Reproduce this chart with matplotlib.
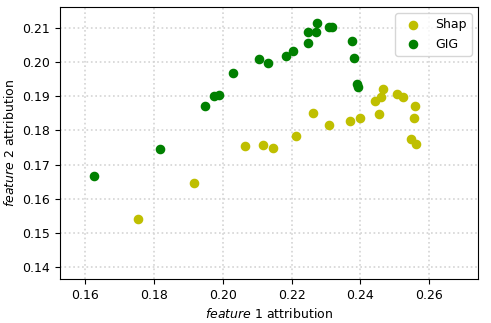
import numpy as np
import matplotlib.pyplot as plt

# feature attributions
shap_x = [0.1754, 0.1916, 0.2065, 0.2117, 0.2146, 0.2212, 0.2262, 0.2308, 0.2370,
          0.2400, 0.2454, 0.2443, 0.2461, 0.2465, 0.2507, 0.2524, 0.2559, 0.2555,
          0.2547, 0.2563]
shap_y = [0.1540, 0.1646, 0.1755, 0.1756, 0.1748, 0.1784, 0.1851, 0.1817, 0.1828,
          0.1836, 0.1847, 0.1887, 0.1897, 0.1920, 0.1906, 0.1897, 0.1872, 0.1836,
          0.1775, 0.1759]

gig_x = [0.1627, 0.1819, 0.1949, 0.1975, 0.1990, 0.2029, 0.2106, 0.2131, 0.2183,
         0.2204, 0.2247, 0.2247, 0.2270, 0.2273, 0.2308, 0.2317, 0.2375, 0.2382,
         0.2389, 0.2392]
gig_y = [0.1667, 0.1744, 0.1872, 0.1901, 0.1904, 0.1968, 0.2008, 0.1997, 0.2018,
         0.2033, 0.2055, 0.2087, 0.2087, 0.2113, 0.2103, 0.2103, 0.2062, 0.2011,
         0.1935, 0.1927]

fig = plt.figure(figsize=(4.91, 3.23), dpi=100)
ax = fig.add_subplot(111)
fig.subplots_adjust(left=60/491, right=478/491, top=1-7/323, bottom=1-279/323)

ax.scatter(shap_x, shap_y, c='y', s=35, label='Shap')
ax.scatter(gig_x, gig_y, c='g', s=35, label='GIG')

ax.set_xlim(0.1527, 0.2742)
ax.set_ylim(0.1365, 0.2161)
ax.set_xticks([0.16, 0.18, 0.20, 0.22, 0.24, 0.26])
ax.set_yticks([0.14, 0.15, 0.16, 0.17, 0.18, 0.19, 0.20, 0.21])
ax.tick_params(labelsize=9)
ax.set_xlabel(r"$\it{feature}$ 1 attribution", fontsize=9)
ax.set_ylabel(r"$\it{feature}$ 2 attribution", fontsize=9)
ax.set_axisbelow(True)
ax.grid(True, ls=':', lw=1.2, color='#d4d4d4')
ax.legend(loc='upper right', fontsize=9)

plt.savefig("out.png", dpi=100)
